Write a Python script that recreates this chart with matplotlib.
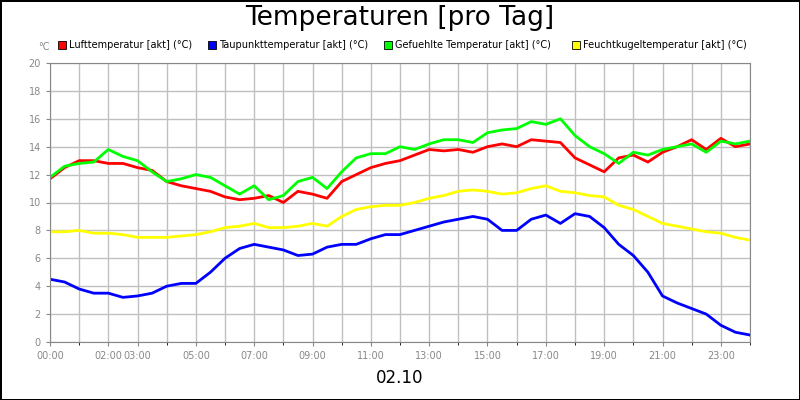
import matplotlib
matplotlib.use("Agg")
import matplotlib.pyplot as plt
import numpy as np

hours = np.arange(0, 24.01, 0.5)
luft = [11.7,12.5,13.0,13.0,12.8,12.8,12.5,12.3,11.5,11.2,11.0,10.8,10.4,10.2,10.3,10.5,10.0,10.8,10.6,10.3,11.5,12.0,12.5,12.8,13.0,13.4,13.8,13.7,13.8,13.6,14.0,14.2,14.0,14.5,14.4,14.3,13.2,12.7,12.2,13.2,13.4,12.9,13.6,14.0,14.5,13.8,14.6,14.0,14.2]
taupunkt = [4.5,4.3,3.8,3.5,3.5,3.2,3.3,3.5,4.0,4.2,4.2,5.0,6.0,6.7,7.0,6.8,6.6,6.2,6.3,6.8,7.0,7.0,7.4,7.7,7.7,8.0,8.3,8.6,8.8,9.0,8.8,8.0,8.0,8.8,9.1,8.5,9.2,9.0,8.2,7.0,6.2,5.0,3.3,2.8,2.4,2.0,1.2,0.7,0.5]
gefuehlt = [11.8,12.6,12.8,12.9,13.8,13.3,13.0,12.2,11.5,11.7,12.0,11.8,11.2,10.6,11.2,10.2,10.5,11.5,11.8,11.0,12.2,13.2,13.5,13.5,14.0,13.8,14.2,14.5,14.5,14.3,15.0,15.2,15.3,15.8,15.6,16.0,14.8,14.0,13.5,12.8,13.6,13.4,13.8,14.0,14.2,13.6,14.4,14.2,14.4]
feucht = [7.9,7.9,8.0,7.8,7.8,7.7,7.5,7.5,7.5,7.6,7.7,7.9,8.2,8.3,8.5,8.2,8.2,8.3,8.5,8.3,9.0,9.5,9.7,9.8,9.8,10.0,10.3,10.5,10.8,10.9,10.8,10.6,10.7,11.0,11.2,10.8,10.7,10.5,10.4,9.8,9.5,9.0,8.5,8.3,8.1,7.9,7.8,7.5,7.3]
series = [("Lufttemperatur [akt] (°C)", luft, "#ff0000"),
          ("Taupunkttemperatur [akt] (°C)", taupunkt, "#0000ff"),
          ("Gefuehlte Temperatur [akt] (°C)", gefuehlt, "#00ff00"),
          ("Feuchtkugeltemperatur [akt] (°C)", feucht, "#ffff00")]
tick_hours = [0,2,3,5,7,9,11,13,15,17,19,21,23]
tick_labels = ["00:00","02:00","03:00","05:00","07:00","09:00","11:00","13:00","15:00","17:00","19:00","21:00","23:00"]

fig = plt.figure(figsize=(8,4), dpi=100)
fig.patch.set_edgecolor("black"); fig.patch.set_linewidth(2)
ax = fig.add_axes([0.0625, 0.145, 0.875, 0.6975])
for lab, vals, c in series:
    ax.plot(hours, vals, color=c, lw=2)
ax.set_xlim(0, 24); ax.set_ylim(0, 20)
ax.set_yticks(range(0, 21, 2))
ax.set_xticks(range(0, 25), minor=True)
ax.set_xticks(tick_hours); ax.set_xticklabels(tick_labels)
ax.grid(True, which="both", axis="x", color="#c0c0c0", lw=1)
ax.grid(True, axis="y", color="#c0c0c0", lw=1)
ax.set_axisbelow(True)
ax.tick_params(labelsize=7, colors="#888888", length=3)
for s in ax.spines.values(): s.set_color("#888888")
fig.text(0.5, 0.955, "Temperaturen [pro Tag]", ha="center", va="center", fontsize=19)
fig.text(0.048, 0.883, "°C", fontsize=7, color="#888888", ha="left", va="center")
xs = [0.072, 0.26, 0.48, 0.715]
for x, (lab, vals, c) in zip(xs, series):
    fig.patches.append(plt.Rectangle((x, 0.878), 0.01, 0.02, transform=fig.transFigure, facecolor=c, edgecolor="black", lw=0.6))
    fig.text(x + 0.014, 0.888, lab, fontsize=7, va="center")
fig.text(0.5, 0.055, "02.10", ha="center", va="center", fontsize=12)
fig.savefig("out.png", dpi=100)
